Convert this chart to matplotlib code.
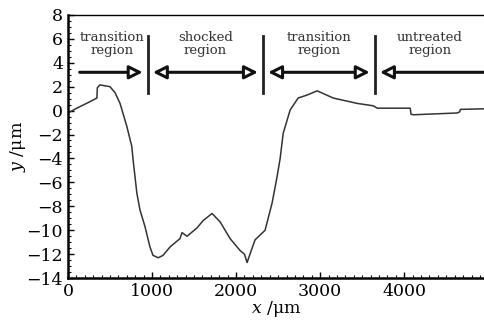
import matplotlib
matplotlib.use('Agg')
import matplotlib.pyplot as plt
from matplotlib.ticker import MultipleLocator

plt.rcParams['font.family'] = 'DejaVu Serif'
plt.rcParams['mathtext.fontset'] = 'dejavuserif'

# surface profile
x_um = [0, 120, 250, 345, 350, 380, 417, 500, 560, 620, 700, 760, 775, 820, 857, 917,
        976, 1012, 1075, 1131, 1214, 1333, 1357, 1417, 1536, 1607, 1714, 1810, 1929,
        2048, 2100, 2131, 2180, 2226, 2345, 2429, 2488, 2524, 2560, 2643, 2738, 2845,
        2964, 3155, 3440, 3631, 3679, 4071, 4080, 4107, 4631, 4660, 4667, 4964]
y_um = [-0.2, 0.25, 0.7, 1.05, 1.9, 2.15, 2.1, 2.0, 1.5, 0.6, -1.3, -3.0, -4.1, -6.9,
        -8.3, -9.7, -11.4, -12.1, -12.3, -12.1, -11.4, -10.7, -10.2, -10.5, -9.8, -9.2,
        -8.6, -9.3, -10.7, -11.7, -12.0, -12.7, -11.7, -10.8, -10.0, -7.7, -5.5, -4.0,
        -1.9, 0.05, 1.05, 1.3, 1.65, 1.05, 0.6, 0.4, 0.2, 0.2, -0.3, -0.35, -0.2, -0.1,
        0.1, 0.15]

# region boundaries and names
edges = [0, 950, 2320, 3650, 4960]
names = ['transition\nregion', 'shocked\nregion', 'transition\nregion', 'untreated\nregion']
heads = ['-|>', '<|-|>', '<|-|>', '<|-']

fig = plt.figure(figsize=(4.85, 3.23), dpi=100)
ax = fig.add_axes([0.140, 0.139, 0.86, 0.815])

ax.plot(x_um, y_um, color='#333333', lw=1.1)

for b in edges[1:-1]:
    ax.plot([b, b], [1.5, 6.2], color='#222222', lw=2)

for i, name in enumerate(names):
    lo, hi = edges[i], edges[i + 1]
    cx = (lo + hi) / 2 if i > 0 else (lo + hi) / 2 + 50
    ax.text(cx, 5.6, name, ha='center', va='center', fontsize=9.5,
            linespacing=1.0, color='#333333')
    start = lo + 60 if i > 0 else 140
    end = hi - 60 if i < len(names) - 1 else hi
    ax.annotate('', xy=(end, 3.2), xytext=(start, 3.2),
                arrowprops=dict(arrowstyle=heads[i] + ',head_length=0.8,head_width=0.4',
                                lw=2.2, facecolor='white', edgecolor='#111111',
                                shrinkA=0, shrinkB=0))

ax.set_xlim(0, 4960)
ax.set_ylim(-14, 8)
ax.xaxis.set_major_locator(MultipleLocator(1000))
ax.xaxis.set_minor_locator(MultipleLocator(100))
ax.yaxis.set_major_locator(MultipleLocator(2))
ax.yaxis.set_minor_locator(MultipleLocator(0.5))
ax.tick_params(which='both', direction='in', labelsize=12.5, top=False, right=False)
ax.tick_params(which='major', length=4, width=1)
ax.tick_params(which='minor', length=2, width=0.8)
ax.spines['right'].set_visible(False)
for s in ['left', 'bottom']:
    ax.spines[s].set_linewidth(1.8)
ax.spines['top'].set_linewidth(1.0)

ax.set_xlabel(r'$x$ /μm', fontsize=12.5, labelpad=-1)
ax.set_ylabel(r'$y$ /μm', fontsize=12.5, labelpad=-1)

fig.savefig('out.png', dpi=100)
